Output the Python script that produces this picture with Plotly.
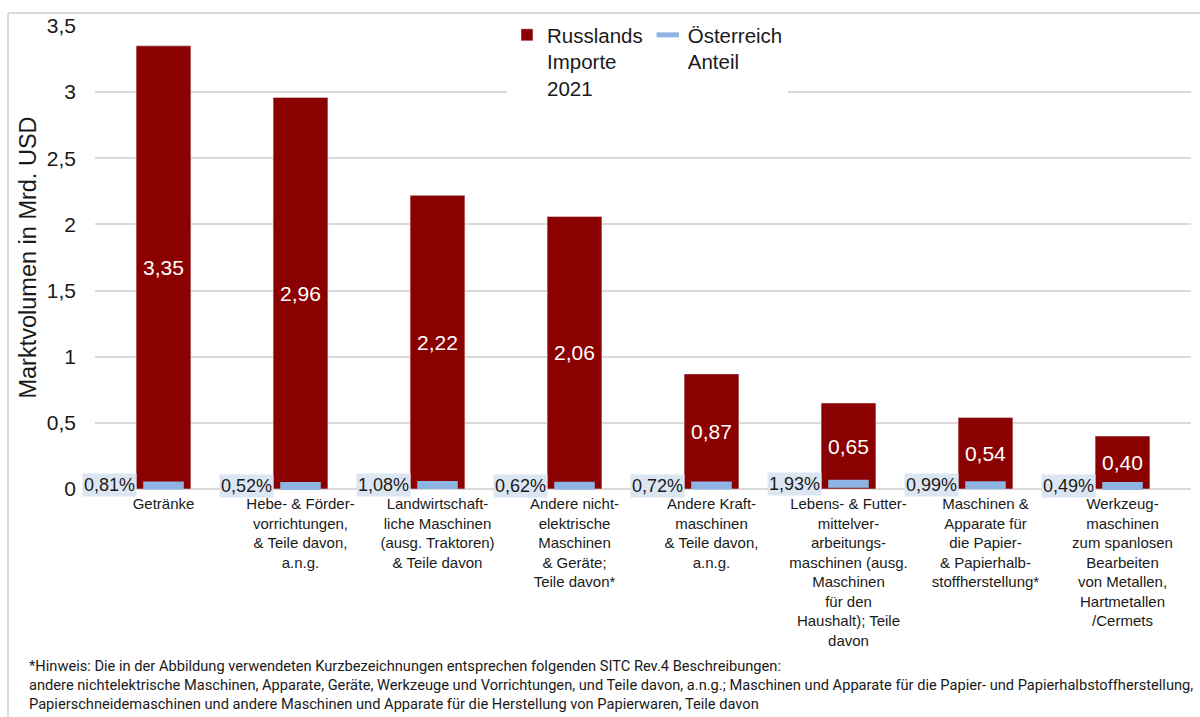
import plotly.graph_objects as go

# Warengruppen (SITC), Achsenbeschriftung mehrzeilig
categories = [
    "Getränke",
    "Hebe- & Förder-<br>vorrichtungen,<br>& Teile davon,<br>a.n.g.",
    "Landwirtschaft-<br>liche Maschinen<br>(ausg. Traktoren)<br>& Teile davon",
    "Andere nicht-<br>elektrische<br>Maschinen<br>& Geräte;<br>Teile davon*",
    "Andere Kraft-<br>maschinen<br>& Teile davon,<br>a.n.g.",
    "Lebens- & Futter-<br>mittelver-<br>arbeitungs-<br>maschinen (ausg.<br>Maschinen<br>für den<br>Haushalt); Teile<br>davon",
    "Maschinen &<br>Apparate für<br>die Papier-<br>& Papierhalb-<br>stoffherstellung*",
    "Werkzeug-<br>maschinen<br>zum spanlosen<br>Bearbeiten<br>von Metallen,<br>Hartmetallen<br>/Cermets",
]

# Russlands Importe 2021 in Mrd. USD
imports_2021 = [3.35, 2.96, 2.22, 2.06, 0.87, 0.65, 0.54, 0.40]

# Anteil Österreichs an den Importen in %
austria_share = [0.81, 0.52, 1.08, 0.62, 0.72, 1.93, 0.99, 0.49]

y_ticks = [0, 0.5, 1, 1.5, 2, 2.5, 3, 3.5]
y_ticktext = ["0", "0,5", "1", "1,5", "2", "2,5", "3", "3,5"]

footnote = (
    "*Hinweis: Die in der Abbildung verwendeten Kurzbezeichnungen entsprechen folgenden SITC Rev.4 Beschreibungen:<br>"
    "andere nichtelektrische Maschinen, Apparate, Geräte, Werkzeuge und Vorrichtungen, und Teile davon, a.n.g.; "
    "Maschinen und Apparate für die Papier- und Papierhalbstoffherstellung,<br>"
    "Papierschneidemaschinen und andere Maschinen und Apparate für die Herstellung von Papierwaren, Teile davon"
)

RED = "#8B0000"
BLUE = "#8DB4E2"
LABEL_BG = "#DCE6F2"
GRID = "#D9D9D9"
TEXT = "#1a1a1a"
FONT = "Liberation Sans, Arial, sans-serif"

W, H = 1200, 717
ML, MR, MT, MB = 95, 9, 26, 228
pw = W - ML - MR
ph = H - MT - MB


def px_x(p):
    return (p - ML) / pw


def px_y(p):
    return (H - MB - p) / ph


fig = go.Figure()

fig.add_trace(go.Bar(
    x=categories,
    y=imports_2021,
    name="Russlands<br>Importe<br>2021",
    marker=dict(color=RED),
    width=0.4,
    text=[f"{v:.2f}".replace(".", ",") for v in imports_2021],
    textposition="inside",
    insidetextanchor="middle",
    textangle=0,
    textfont=dict(color="white", size=21, family=FONT),
))

fig.add_trace(go.Scatter(
    x=categories,
    y=austria_share,
    yaxis="y2",
    name="Österreich<br>Anteil",
    mode="markers",
    marker=dict(symbol="line-ew", size=29, line=dict(color=BLUE, width=8), color=BLUE),
    cliponaxis=False,
))

annotations = []
for cat, share in zip(categories, austria_share):
    annotations.append(dict(
        x=cat, y=share, xref="x", yref="y2",
        text=f"{share:.2f}%".replace(".", ","),
        showarrow=False, xanchor="right", yanchor="middle",
        xshift=-27, bgcolor=LABEL_BG, borderpad=1,
        font=dict(size=18, color=TEXT, family=FONT),
    ))

annotations.append(dict(
    x=px_x(27), y=px_y(655), xref="paper", yref="paper",
    xanchor="left", yanchor="top", align="left", showarrow=False,
    text=footnote,
    font=dict(size=14.65, color=TEXT, family="Liberation Sans Narrow, Roboto, sans-serif"),
))

shapes = [
    dict(type="line", xref="paper", yref="paper",
         x0=px_x(8), x1=px_x(8), y0=px_y(13), y1=px_y(720),
         line=dict(color=GRID, width=2)),
    dict(type="line", xref="paper", yref="paper",
         x0=px_x(8), x1=px_x(1202), y0=px_y(13), y1=px_y(13),
         line=dict(color=GRID, width=2)),
]

fig.update_layout(
    width=W, height=H,
    margin=dict(l=ML, r=MR, t=MT, b=MB, autoexpand=False),
    paper_bgcolor="white", plot_bgcolor="white",
    font=dict(family=FONT, color=TEXT),
    separators=", ",
    showlegend=True,
    legend=dict(
        orientation="h", x=px_x(507), y=px_y(15), xanchor="left", yanchor="top",
        bgcolor="white", valign="top", font=dict(size=20.5, family=FONT),
        itemwidth=30, tracegroupgap=0,
    ),
    xaxis=dict(
        range=[-0.5, len(categories) - 0.5],
        tickfont=dict(size=15, family=FONT, color=TEXT),
        showgrid=False, showline=False, zeroline=False,
        ticks="", ticklabelstandoff=4, automargin=False,
    ),
    yaxis=dict(
        range=[0, 3.5], tickvals=y_ticks, ticktext=y_ticktext,
        tickfont=dict(size=21, family=FONT, color=TEXT),
        showgrid=True, gridcolor=GRID, gridwidth=1.5,
        zeroline=True, zerolinecolor=GRID, zerolinewidth=2,
        ticks="", ticklabelstandoff=18, automargin=False,
        title=dict(text="Marktvolumen in Mrd. USD",
                   font=dict(size=23.5, family=FONT, color=TEXT), standoff=3),
    ),
    yaxis2=dict(
        overlaying="y", side="right", range=[-1.5, 300], visible=False, showgrid=False,
    ),
    annotations=annotations,
    shapes=shapes,
    bargap=0.6,
)

fig.write_html("out.html")
